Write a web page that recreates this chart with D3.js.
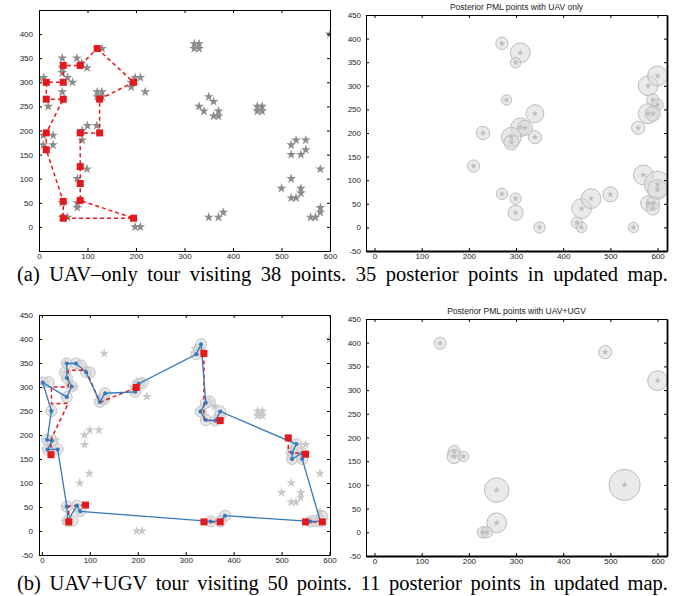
<!DOCTYPE html>
<html>
<head>
<meta charset="utf-8">
<script src="https://cdn.jsdelivr.net/npm/d3@7"></script>
<style>
body { margin: 0; background: #fff; }
svg { display: block; }
</style>
</head>
<body>
<script>
// prior PML points (stars)
const priorPts = [
	[0,310],[10,310],[48,350],[78,350],[88,340],[99,330],[130,370],[48,330],[48,320],[59,310],
	[69,300],[48,280],[19,250],[9,190],[29,190],[9,170],[29,170],[120,280],[130,280],[120,270],
	[130,270],[190,290],[190,300],[198,310],[209,310],[219,280],[89,200],[100,210],[119,210],[89,180],
	[99,120],[79,100],[79,50],[79,40],[48,50],[48,20],[59,20],[198,0],[209,0],[320,380],
	[330,380],[320,370],[330,370],[350,270],[360,260],[330,250],[340,240],[370,240],[360,230],[370,230],
	[450,250],[460,250],[450,240],[460,240],[520,170],[530,180],[550,180],[520,150],[540,150],[550,160],
	[500,80],[520,100],[520,60],[530,60],[540,80],[540,70],[580,120],[350,20],[370,20],[380,30],
	[560,20],[570,20],[580,30],[580,40],[600,400]
];

// (a) UAV-only tour (red squares, closed)
const uavOnlyTour = [
	[120,370],[195,300],[125,265],[125,195],[85,195],[85,125],[85,90],[85,55],[195,18],[50,18],
	[50,53],[15,160],[15,195],[50,265],[15,265],[15,300],[50,300],[50,335],[85,335]
];

// (a) posterior points: x, y, spread
const postUavOnly = [
	[270,390,13],[309,370,21],[299,349,11],[280,270,11],[230,200,14],[340,241,19],[309,212,20],
	[319,211,16],[290,191,21],[290,180,16],[340,191,14],[210,130,13],[270,71,12],[299,61,12],
	[299,31,16],[350,0,12],[429,10,12],[439,0,11],[439,40,21],[459,61,21],[500,70,16],[549,0,11],
	[559,211,14],[580,300,21],[600,321,21],[590,270,13],[600,260,12],[580,241,21],[590,241,16],
	[570,111,21],[600,91,28],[600,80,21],[580,51,16],[590,51,14],[590,40,14]
];

// (b) UAV tour (blue, closed)
const uavTour = [
	[2,309],[52,279],[62,301],[52,319],[52,349],[71,349],[92,331],[121,269],[132,287],[195,290],
	[202,307],[322,368],[332,389],[342,267],[331,249],[342,231],[362,230],[372,249],[531,181],[522,163],
	[522,150],[543,162],[543,150],[581,20],[560,20],[382,32],[372,20],[352,20],[80,41],[73,53],
	[54,21],[52,51],[33,170],[12,170],[21,188],[11,190],[20,250]
];
// other points covered in (b)
const uavExtraPts = [
	[14,310],[48,330],[82,345],[100,330],[130,275],[210,308],[328,378],[350,270],[372,240],
	[532,172],[64,21],[570,21],[585,30]
];
// (b) UGV stops and legs (red)
const ugvStops = [
	[19,159],[56,19],[91,54],[197,299],[338,370],[372,230],[338,19],[372,19],
	[514,194],[550,160],[550,19],[585,19]
];
const ugvLegs = [
	[[19,159],[19,191],[55,266],[20,265],[20,300],[55,300],[55,335],[92,335],[121,268],[197,299]],
	[[56,19],[56,52],[91,54]],
	[[338,370],[338,230],[372,230]],
	[[338,19],[372,19]],
	[[514,194],[514,165],[550,160]],
	[[550,19],[585,19]]
];

// (b) posterior points: x, y, spread
const postUavUgv = [
	[139,399,13],[489,380,14],[600,320,21],[169,170,13],[169,160,15],[189,160,11],
	[259,89,26],[530,100,33],[259,20,21],[230,0,12],[238,0,12]
];

const xTicks = [0,100,200,300,400,500,600];
const yTicks = [-50,0,50,100,150,200,250,300,350,400,450];
const titleA = "Posterior PML points with UAV only";
const titleB = "Posterior PML points with UAV+UGV";
const captionA = "(a) UAV\u2013only tour visiting 38 points. 35 posterior points in updated map.";
const captionB = "(b) UAV+UGV tour visiting 50 points. 11 posterior points in updated map.";

const width = 692, height = 596;
const red = "#e3191e", blue = "#3479bd";

const svg = d3.select("body").append("svg")
	.attr("width", width)
	.attr("height", height)
	.style("font-family", "'Liberation Sans', Arial, sans-serif");

let clipId = 0;

function panel(box, xDom, showLabel, title) {
	const x = d3.scaleLinear().domain(xDom).range([box.l, box.r]);
	const y = d3.scaleLinear().domain([-50, 450]).range([box.b, box.t]);
	const g = svg.append("g");
	const fmt = (d) => (showLabel(d) ? d : "");

	const id = "clip" + clipId++;
	svg.append("clipPath").attr("id", id)
		.append("rect")
		.attr("x", box.l).attr("y", box.t)
		.attr("width", box.r - box.l).attr("height", box.b - box.t);
	const plot = g.append("g").attr("clip-path", `url(#${id})`);

	const axes = g.append("g");
	axes.append("g").attr("transform", `translate(0,${box.b})`)
		.call(d3.axisBottom(x).tickValues(xTicks).tickSizeInner(-3).tickSizeOuter(0).tickPadding(2));
	axes.append("g").attr("transform", `translate(0,${box.t})`)
		.call(d3.axisTop(x).tickValues(xTicks).tickSizeInner(-3).tickSizeOuter(0).tickFormat(""));
	axes.append("g").attr("transform", `translate(${box.l},0)`)
		.call(d3.axisLeft(y).tickValues(yTicks).tickSizeInner(-3).tickSizeOuter(0).tickPadding(box.pad).tickFormat(fmt));
	const right = axes.append("g").attr("transform", `translate(${box.r},0)`)
		.call(d3.axisRight(y).tickValues(yTicks).tickSizeInner(-3).tickSizeOuter(0).tickFormat(""));
	axes.selectAll("text").attr("font-size", 8).attr("fill", "#222").attr("font-family", null);
	axes.selectAll("line, path").attr("stroke", "#000");
	// the paper's frames are heavier on the right and bottom
	right.select(".domain").attr("stroke-width", box.heavy ? 1.8 : 1);
	axes.select("g .domain").attr("stroke-width", box.heavy ? 1.8 : 1);

	if (title) {
		g.append("text")
			.attr("x", (box.l + box.r) / 2)
			.attr("y", box.t - 5)
			.attr("text-anchor", "middle")
			.attr("font-size", 8.5)
			.attr("fill", "#222")
			.text(title);
	}
	return { x, y, plot };
}

const star = (s) => d3.symbol(d3.symbolStar).size(s)();

function drawStars(p, pts, color, size) {
	p.plot.append("g").selectAll("path")
		.data(pts)
		.enter()
		.append("path")
		.attr("d", star(size))
		.attr("fill", color)
		.attr("transform", (d) => `translate(${p.x(d[0])},${p.y(d[1])})`);
}

function drawPosterior(p, pts) {
	const k = p.x(1) - p.x(0);
	p.plot.append("g").selectAll("circle")
		.data(pts)
		.enter()
		.append("circle")
		.attr("cx", (d) => p.x(d[0]))
		.attr("cy", (d) => p.y(d[1]))
		.attr("r", (d) => d[2] * k)
		.attr("fill", "#d8d8d8")
		.attr("fill-opacity", 0.55)
		.attr("stroke", "#bcbcbc")
		.attr("stroke-width", 1);
	drawStars(p, pts, "#bdbdbd", 14);
}

function drawSquares(p, pts) {
	p.plot.append("g").selectAll("rect")
		.data(pts)
		.enter()
		.append("rect")
		.attr("x", (d) => p.x(d[0]) - 3.5)
		.attr("y", (d) => p.y(d[1]) - 3.5)
		.attr("width", 7)
		.attr("height", 7)
		.attr("fill", red);
}

// (a) left: UAV-only tour
const pA = panel({ l: 39, r: 330, t: 10, b: 251, pad: 6 }, [0, 600], (d) => d >= 0 && d <= 400);
drawStars(pA, priorPts, "#8c8c8c", 30);
const lineA = d3.line().x((d) => pA.x(d[0])).y((d) => pA.y(d[1])).curve(d3.curveLinearClosed);
pA.plot.append("path")
	.attr("d", lineA(uavOnlyTour))
	.attr("fill", "none")
	.attr("stroke", red)
	.attr("stroke-width", 1.5)
	.attr("stroke-dasharray", "4,3");
drawSquares(pA, uavOnlyTour);

// (a) right: posterior
const pA2 = panel({ l: 366, r: 667, t: 15, b: 251, pad: 5, heavy: true }, [-18, 620], () => true, titleA);
drawPosterior(pA2, postUavOnly);

// (b) left: UAV + UGV tour
const pB = panel({ l: 39, r: 330, t: 315, b: 555, pad: 6 }, [-6, 601], () => true);
drawStars(pB, priorPts, "#c8c8c8", 30);
const visited = uavTour.concat(uavExtraPts);
pB.plot.append("g").selectAll("circle")
	.data(visited)
	.enter()
	.append("circle")
	.attr("cx", (d) => pB.x(d[0]))
	.attr("cy", (d) => pB.y(d[1]))
	.attr("r", 5.5)
	.attr("fill", "#d8d8d8")
	.attr("fill-opacity", 0.6)
	.attr("stroke", "#c4c4c4");
const lineB = d3.line().x((d) => pB.x(d[0])).y((d) => pB.y(d[1]));
pB.plot.append("g").selectAll("path")
	.data(ugvLegs)
	.enter()
	.append("path")
	.attr("d", lineB)
	.attr("fill", "none")
	.attr("stroke", red)
	.attr("stroke-width", 1.5)
	.attr("stroke-dasharray", "4,3");
pB.plot.append("path")
	.attr("d", lineB.curve(d3.curveLinearClosed)(uavTour))
	.attr("fill", "none")
	.attr("stroke", blue)
	.attr("stroke-width", 1.3);
pB.plot.append("g").selectAll("circle")
	.data(uavTour)
	.enter()
	.append("circle")
	.attr("cx", (d) => pB.x(d[0]))
	.attr("cy", (d) => pB.y(d[1]))
	.attr("r", 2)
	.attr("fill", blue);
drawSquares(pB, ugvStops);

// (b) right: posterior
const pB2 = panel({ l: 366, r: 667, t: 319, b: 556, pad: 5, heavy: true }, [-18, 620], () => true, titleB);
drawPosterior(pB2, postUavUgv);

// captions, spread over the full line like the paper
function caption(txt, yPos) {
	const t = svg.append("text")
		.attr("x", 17)
		.attr("y", yPos)
		.attr("font-family", "'Liberation Serif', 'Times New Roman', serif")
		.attr("font-size", 20.5)
		.attr("fill", "#000")
		.text(txt);
	const natural = t.node().getComputedTextLength();
	const spaces = txt.split(" ").length - 1;
	t.attr("word-spacing", Math.max(0, (668 - 17 - natural) / spaces));
}
caption(captionA, 281);
caption(captionB, 590);
</script>
</body>
</html>
